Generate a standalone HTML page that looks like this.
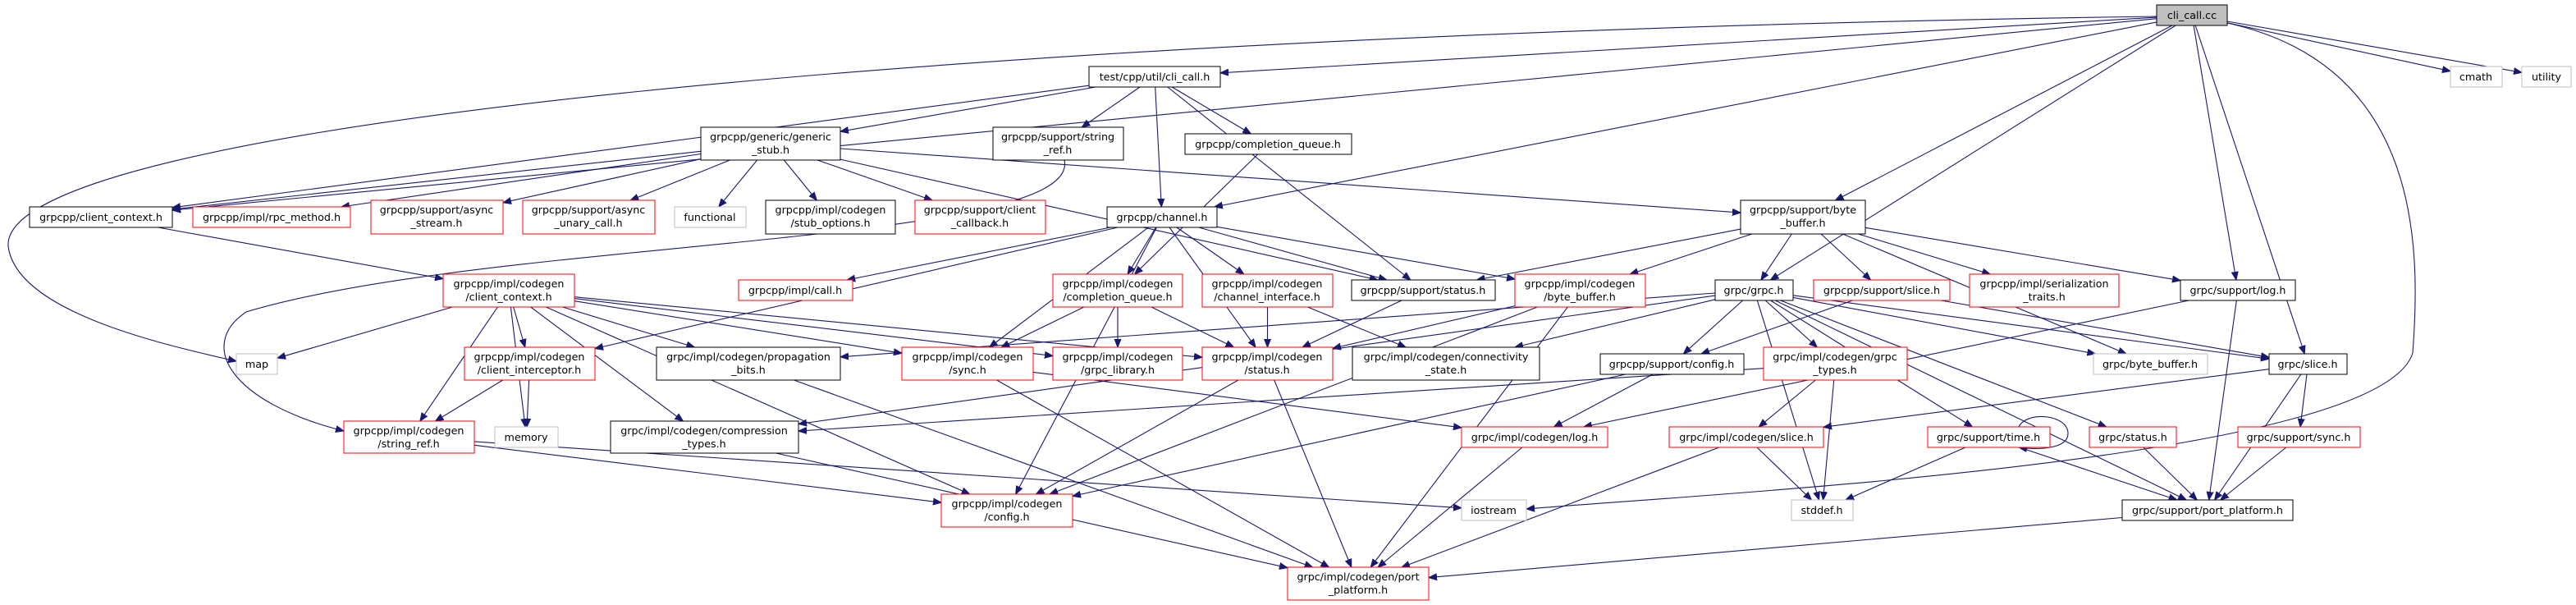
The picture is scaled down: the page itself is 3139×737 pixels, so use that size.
<!DOCTYPE html>
<html><head><meta charset="utf-8"><style>
html,body{margin:0;padding:0;background:#fff;}
svg{display:block;}
text{font-family:"DejaVu Sans","Liberation Sans",sans-serif;font-size:12.7px;fill:#000;text-anchor:middle;}
</style></head><body>
<svg id="g" width="3139" height="737" viewBox="0 0 3139 737" xmlns="http://www.w3.org/2000/svg">
<defs><marker id="ah" viewBox="0 0 10 10" refX="10" refY="5" markerWidth="10" markerHeight="10" markerUnits="userSpaceOnUse" orient="auto"><path d="M0,1 L10,5 L0,9 z" fill="#191970" stroke="#191970"/></marker></defs>
<g id="edges" fill="none" stroke="#191970" stroke-width="1.1"></g>
<g id="nodes">
<rect x="2628" y="6" width="86" height="25" fill="#bfbfbf" stroke="#000"/><text x="2671" y="23">cli_call.cc</text>
<rect x="1327" y="81" width="160" height="25" fill="#fff" stroke="#000"/><text x="1407" y="98">test/cpp/util/cli_call.h</text>
<rect x="2986" y="81" width="63" height="25" fill="#fff" stroke="#bfbfbf"/><text x="3017" y="98">cmath</text>
<rect x="3073" y="81" width="60" height="25" fill="#fff" stroke="#bfbfbf"/><text x="3103" y="98">utility</text>
<rect x="854" y="155" width="170" height="40" fill="#fff" stroke="#000"/><text x="939" y="171">grpcpp/generic/generic</text><text x="939" y="187">_stub.h</text>
<rect x="1210" y="155" width="159" height="40" fill="#fff" stroke="#000"/><text x="1289" y="171">grpcpp/support/string</text><text x="1289" y="187">_ref.h</text>
<rect x="1444" y="163" width="203" height="25" fill="#fff" stroke="#000"/><text x="1545" y="180">grpcpp/completion_queue.h</text>
<rect x="2121" y="244" width="152" height="41" fill="#fff" stroke="#000"/><text x="2197" y="260">grpcpp/support/byte</text><text x="2197" y="276">_buffer.h</text>
<rect x="36" y="252" width="174" height="25" fill="#fff" stroke="#000"/><text x="123" y="269">grpcpp/client_context.h</text>
<rect x="235" y="252" width="192" height="25" fill="#fff" stroke="#f00"/><text x="331" y="269">grpcpp/impl/rpc_method.h</text>
<rect x="452" y="244" width="161" height="41" fill="#fff" stroke="#f00"/><text x="532" y="260">grpcpp/support/async</text><text x="532" y="276">_stream.h</text>
<rect x="637" y="244" width="161" height="41" fill="#fff" stroke="#f00"/><text x="717" y="260">grpcpp/support/async</text><text x="717" y="276">_unary_call.h</text>
<rect x="822" y="252" width="87" height="25" fill="#fff" stroke="#bfbfbf"/><text x="865" y="269">functional</text>
<rect x="933" y="244" width="158" height="41" fill="#fff" stroke="#000"/><text x="1012" y="260">grpcpp/impl/codegen</text><text x="1012" y="276">/stub_options.h</text>
<rect x="1115" y="244" width="159" height="41" fill="#fff" stroke="#f00"/><text x="1194" y="260">grpcpp/support/client</text><text x="1194" y="276">_callback.h</text>
<rect x="1349" y="252" width="134" height="25" fill="#fff" stroke="#000"/><text x="1416" y="269">grpcpp/channel.h</text>
<rect x="900" y="341" width="139" height="25" fill="#fff" stroke="#f00"/><text x="969" y="358">grpcpp/impl/call.h</text>
<rect x="540" y="334" width="160" height="40" fill="#fff" stroke="#f00"/><text x="620" y="350">grpcpp/impl/codegen</text><text x="620" y="366">/client_context.h</text>
<rect x="1283" y="334" width="158" height="40" fill="#fff" stroke="#f00"/><text x="1362" y="350">grpcpp/impl/codegen</text><text x="1362" y="366">/completion_queue.h</text>
<rect x="1465" y="334" width="159" height="40" fill="#fff" stroke="#f00"/><text x="1544" y="350">grpcpp/impl/codegen</text><text x="1544" y="366">/channel_interface.h</text>
<rect x="1647" y="341" width="175" height="25" fill="#fff" stroke="#000"/><text x="1734" y="358">grpcpp/support/status.h</text>
<rect x="1846" y="334" width="159" height="40" fill="#fff" stroke="#f00"/><text x="1925" y="350">grpcpp/impl/codegen</text><text x="1925" y="366">/byte_buffer.h</text>
<rect x="2090" y="341" width="95" height="25" fill="#fff" stroke="#000"/><text x="2137" y="358">grpc/grpc.h</text>
<rect x="2210" y="341" width="166" height="25" fill="#fff" stroke="#f00"/><text x="2293" y="358">grpcpp/support/slice.h</text>
<rect x="2400" y="334" width="182" height="40" fill="#fff" stroke="#f00"/><text x="2491" y="350">grpcpp/impl/serialization</text><text x="2491" y="366">_traits.h</text>
<rect x="2657" y="341" width="140" height="25" fill="#fff" stroke="#000"/><text x="2727" y="358">grpc/support/log.h</text>
<rect x="288" y="431" width="50" height="25" fill="#fff" stroke="#bfbfbf"/><text x="313" y="448">map</text>
<rect x="566" y="423" width="159" height="40" fill="#fff" stroke="#f00"/><text x="645" y="439">grpcpp/impl/codegen</text><text x="645" y="455">/client_interceptor.h</text>
<rect x="800" y="423" width="224" height="40" fill="#fff" stroke="#000"/><text x="912" y="439">grpc/impl/codegen/propagation</text><text x="912" y="455">_bits.h</text>
<rect x="1099" y="423" width="160" height="40" fill="#fff" stroke="#f00"/><text x="1179" y="439">grpcpp/impl/codegen</text><text x="1179" y="455">/sync.h</text>
<rect x="1283" y="423" width="158" height="40" fill="#fff" stroke="#f00"/><text x="1362" y="439">grpcpp/impl/codegen</text><text x="1362" y="455">/grpc_library.h</text>
<rect x="1465" y="423" width="159" height="40" fill="#fff" stroke="#f00"/><text x="1544" y="439">grpcpp/impl/codegen</text><text x="1544" y="455">/status.h</text>
<rect x="1648" y="423" width="228" height="40" fill="#fff" stroke="#000"/><text x="1762" y="439">grpc/impl/codegen/connectivity</text><text x="1762" y="455">_state.h</text>
<rect x="1950" y="431" width="175" height="25" fill="#fff" stroke="#000"/><text x="2037" y="448">grpcpp/support/config.h</text>
<rect x="2149" y="423" width="175" height="40" fill="#fff" stroke="#f00"/><text x="2236" y="439">grpc/impl/codegen/grpc</text><text x="2236" y="455">_types.h</text>
<rect x="2551" y="431" width="139" height="25" fill="#fff" stroke="#bfbfbf"/><text x="2620" y="448">grpc/byte_buffer.h</text>
<rect x="2765" y="431" width="95" height="25" fill="#fff" stroke="#000"/><text x="2812" y="448">grpc/slice.h</text>
<rect x="419" y="513" width="159" height="39" fill="#fff" stroke="#f00"/><text x="498" y="529">grpcpp/impl/codegen</text><text x="498" y="545">/string_ref.h</text>
<rect x="603" y="520" width="77" height="25" fill="#fff" stroke="#bfbfbf"/><text x="641" y="537">memory</text>
<rect x="744" y="513" width="229" height="39" fill="#fff" stroke="#000"/><text x="858" y="529">grpc/impl/codegen/compression</text><text x="858" y="545">_types.h</text>
<rect x="1781" y="520" width="178" height="25" fill="#fff" stroke="#f00"/><text x="1870" y="537">grpc/impl/codegen/log.h</text>
<rect x="2034" y="520" width="188" height="25" fill="#fff" stroke="#f00"/><text x="2128" y="537">grpc/impl/codegen/slice.h</text>
<rect x="2349" y="520" width="149" height="25" fill="#fff" stroke="#f00"/><text x="2423" y="537">grpc/support/time.h</text>
<rect x="2546" y="520" width="106" height="25" fill="#fff" stroke="#f00"/><text x="2599" y="537">grpc/status.h</text>
<rect x="2727" y="520" width="149" height="25" fill="#fff" stroke="#f00"/><text x="2801" y="537">grpc/support/sync.h</text>
<rect x="1147" y="602" width="160" height="40" fill="#fff" stroke="#f00"/><text x="1227" y="618">grpcpp/impl/codegen</text><text x="1227" y="634">/config.h</text>
<rect x="1781" y="609" width="79" height="25" fill="#fff" stroke="#bfbfbf"/><text x="1820" y="626">iostream</text>
<rect x="2183" y="609" width="75" height="25" fill="#fff" stroke="#bfbfbf"/><text x="2220" y="626">stddef.h</text>
<rect x="2586" y="609" width="208" height="25" fill="#fff" stroke="#000"/><text x="2690" y="626">grpc/support/port_platform.h</text>
<rect x="1569" y="691" width="172" height="40" fill="#fff" stroke="#f00"/><text x="1655" y="707">grpc/impl/codegen/port</text><text x="1655" y="723">_platform.h</text>
</g>
</svg>
<script>
var N={cc:[2628,6,2714,31],clih:[1327,81,1487,106],cmath:[2986,81,3049,106],utility:[3073,81,3133,106],
gstub:[854,155,1024,195],sref:[1210,155,1369,195],cq:[1444,163,1647,188],bbuf:[2121,244,2273,285],
cctx:[36,252,210,277],rpcm:[235,252,427,277],astream:[452,244,613,285],aunary:[637,244,798,285],
func:[822,252,909,277],stubopt:[933,244,1091,285],ccb:[1115,244,1274,285],chan:[1349,252,1483,277],
call:[900,341,1039,366],cgcctx:[540,334,700,374],cgcq:[1283,334,1441,374],chif:[1465,334,1624,374],
sstatus:[1647,341,1822,366],cgbb:[1846,334,2005,374],grpch:[2090,341,2185,366],sslice:[2210,341,2376,366],
sertr:[2400,334,2582,374],slog:[2657,341,2797,366],map:[288,431,338,456],cint:[566,423,725,463],
prop:[800,423,1024,463],sync:[1099,423,1259,463],glib:[1283,423,1441,463],cgstat:[1465,423,1624,463],
conn:[1648,423,1876,463],sconf:[1950,431,2125,456],gtypes:[2149,423,2324,463],gbb:[2551,431,2690,456],
gslice:[2765,431,2860,456],cgsref:[419,513,578,552],memory:[603,520,680,545],comp:[744,513,973,552],
cglog:[1781,520,1959,545],cgslice:[2034,520,2222,545],time:[2349,520,2498,545],gstatus:[2546,520,2652,545],
ssync:[2727,520,2876,545],config:[1147,602,1307,642],iostream:[1781,609,1860,634],stddef:[2183,609,2258,634],
spp:[2586,609,2794,634],cgpp:[1569,691,1741,731]};
var E=[["cc","clih"],["cc","cctx"],["cc","chan"],["cc","bbuf"],["cc","grpch"],["cc","slog"],["cc","gslice"],["cc","cmath"],["cc","utility"],
["clih","gstub"],["clih","sref"],["clih","chan"],["clih","cq"],["clih","sstatus"],["clih","cctx"],
["gstub","cctx"],["gstub","rpcm"],["gstub","astream"],["gstub","aunary"],["gstub","func"],["gstub","stubopt"],["gstub","ccb"],["gstub","bbuf"],["gstub","sstatus"],
["cq","cgcq"],["cctx","cgcctx"],
["chan","call"],["chan","cgcq"],["chan","chif"],["chan","sync"],["chan","cint"],["chan","config"],["chan","sstatus"],["chan","cgbb"],["chan","cgstat"],
["cgcctx","map"],["cgcctx","cgsref"],["cgcctx","memory"],["cgcctx","cint"],["cgcctx","prop"],["cgcctx","comp"],["cgcctx","config"],["cgcctx","sync"],["cgcctx","cgstat"],["cgcctx","glib"],
["cint","cgsref"],["cint","memory"],["cgsref","config"],["cgsref","iostream"],
["cgcq","sync"],["cgcq","glib"],["cgcq","cgstat"],["chif","cgstat"],["chif","conn"],["sstatus","cgstat"],
["cgbb","cgstat"],["cgbb","config"],["cgbb","cgpp"],
["bbuf","sstatus"],["bbuf","cgbb"],["bbuf","grpch"],["bbuf","sslice"],["bbuf","sertr"],["bbuf","slog"],["bbuf","gbb"],
["grpch","prop"],["grpch","conn"],["grpch","gtypes"],["grpch","time"],["grpch","gstatus"],["grpch","spp"],["grpch","gbb"],["grpch","gslice"],["grpch","stddef"],["grpch","comp"],["grpch","sconf"],
["sslice","sconf"],["sslice","gslice"],["slog","spp"],["slog","cglog"],["sconf","config"],["sconf","cglog"],
["gtypes","cgslice"],["gtypes","stddef"],["gtypes","comp"],["cgslice","stddef"],["cgslice","cgpp"],["cglog","cgpp"],
["prop","cgpp"],["comp","cgpp"],["sync","cgpp"],["sync","cglog"],["cgstat","config"],["cgstat","cgpp"],
["time","spp"],["time","stddef"],["gstatus","spp"],["ssync","spp"],["gslice","ssync"],["gslice","spp"],["gslice","cgslice"],["spp","cgpp"]];
function ctr(b){return [(b[0]+b[2])/2,(b[1]+b[3])/2];}
function clip(b,p,q){var cx=p[0],cy=p[1],dx=q[0]-cx,dy=q[1]-cy,hw=(b[2]-b[0])/2,hh=(b[3]-b[1])/2;
var t=Math.min(dx?hw/Math.abs(dx):1e9,dy?hh/Math.abs(dy):1e9);return [cx+dx*t,cy+dy*t];}
var g=document.getElementById("edges"),s="";
E.forEach(function(e){var a=N[e[0]],b=N[e[1]],ca=ctr(a),cb=ctr(b);
var p=clip(a,ca,cb),q=clip(b,cb,ca);
s+='<path d="M'+p[0].toFixed(1)+','+p[1].toFixed(1)+' L'+q[0].toFixed(1)+','+q[1].toFixed(1)+'" marker-end="url(#ah)"/>';});
s+='<path d="M2628,20 C1200,40 0,150 10,300 C20,380 200,420 288,440" marker-end="url(#ah)"/>';
s+='<path d="M2714,28 C2950,80 2950,300 2940,430 C2900,560 2100,600 1860,620" marker-end="url(#ah)"/>';
s+='<path d="M1297,195 C1320,300 600,290 300,380 C240,420 280,490 419,525" marker-end="url(#ah)"/>';
s+='<path d="M2460,520 C2470,500 2520,505 2520,528 C2520,548 2480,548 2460,545" marker-end="url(#ah)"/>';
g.innerHTML=s;
</script>
</body></html>
